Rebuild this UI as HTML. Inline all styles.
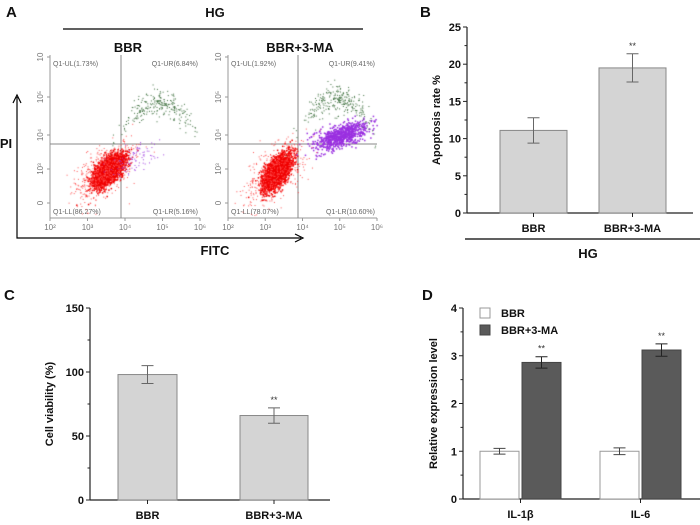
<!DOCTYPE html>
<html><head><meta charset="utf-8"><style>
body{margin:0;background:#fff;width:700px;height:525px;overflow:hidden;font-family:"Liberation Sans",Arial,sans-serif}
svg text{font-family:"Liberation Sans",Arial,sans-serif}
#fc{position:absolute;left:0;top:0}
</style></head><body>
<svg id="s" width="700" height="525" style="position:absolute;left:0;top:0"></svg>
<canvas id="fc" width="700" height="260"></canvas>
<script>
// Panel B data
const bCats=["BBR","BBR+3-MA"];
const bVals=[11.1,19.5];
const bErr=[1.7,1.9];
const bTicks=[0,5,10,15,20,25];
// Panel C data
const cCats=["BBR","BBR+3-MA"];
const cVals=[98,66];
const cErr=[7,6];
const cTicks=[0,50,100,150];
// Panel D data
const dCats=["IL-1β","IL-6"];
const dBBR=[1.0,1.0];
const dBBRErr=[0.06,0.07];
const dMA=[2.86,3.12];
const dMAErr=[0.12,0.13];
const dTicks=[0,1,2,3,4];
// Panel A quadrant data
const aQuads1=["Q1-UL(1.73%)","Q1-UR(6.84%)","Q1-LL(86.27%)","Q1-LR(5.16%)"];
const aQuads2=["Q1-UL(1.92%)","Q1-UR(9.41%)","Q1-LL(78.07%)","Q1-LR(10.60%)"];
// clusters: [logX, logY, spreadX, spreadY, count, color]
const aClusters1=[[3.55,2.75,0.2,0.22,2600,"#f00000"],[4.2,3.0,0.35,0.25,100,"#a040e0"],[4.9,4.7,0.5,0.3,260,"#3c6e3c"],[3.4,2.7,0.4,0.45,500,"#ff5050"]];
const aClusters2=[[3.3,2.7,0.18,0.25,2400,"#f00000"],[5.0,3.75,0.35,0.2,800,"#9a30e0"],[4.9,4.8,0.5,0.35,280,"#3c6e3c"],[3.25,2.65,0.4,0.5,500,"#ff5050"]];

const S=document.getElementById('s'),NS='http://www.w3.org/2000/svg';
function el(t,a,txt){const e=document.createElementNS(NS,t);for(const k in a)e.setAttribute(k,a[k]);if(txt!==undefined)e.textContent=txt;S.appendChild(e);return e;}
function T(x,y,s,txt,o){o=o||{};const e=el('text',Object.assign({x:x,y:y,'font-size':s,'font-weight':'bold','text-anchor':'middle',fill:'#111'},o),txt);return e;}

let e;
e=T(6,17,15,"A",{'text-anchor':'start'});
e=T(420,17,15,"B",{'text-anchor':'start'});
e=T(4,300,15,"C",{'text-anchor':'start'});
e=T(422,300,15,"D",{'text-anchor':'start'});

// ---------- Panel A ----------
e=T(215,17,13,"HG");
e=el('line',{x1:63,y1:29,x2:363,y2:29,stroke:'#000','stroke-width':1.2});
e=T(128,52,13,"BBR");
e=T(300,52,13,"BBR+3-MA");
e=el('path',{d:'M17,97 L17,238 L301,238',fill:'none',stroke:'#000','stroke-width':1.2});
el('path',{d:'M13,103 L17,95 L21,103',fill:'none',stroke:'#000','stroke-width':1.2});
el('path',{d:'M295,234 L303,238 L295,242',fill:'none',stroke:'#000','stroke-width':1.2});
e=T(6,148,13,"PI");
e=T(215,255,13,"FITC");

const fx=(x0,x1,v)=>x0+(v-2)/4*(x1-x0);
const fy=v=>203-(v-1.8)/(6-1.8)*(203-57);
const ctx=document.getElementById('fc').getContext('2d');
let seed=7;function rnd(){seed=(seed*16807)%2147483647;return seed/2147483647;}
function gauss(){return Math.sqrt(-2*Math.log(rnd()+1e-9))*Math.cos(2*Math.PI*rnd());}
function flowPlot(x0,x1,qx,quads,clusters,name){
  const g=el('g',{});
  const ax='#999';
  el('line',{x1:x0,y1:55,x2:x0,y2:218,stroke:ax});
  el('line',{x1:x0,y1:218,x2:x1,y2:218,stroke:ax});
  const xl=["10²","10³","10⁴","10⁵","10⁶"];
  xl.forEach((l,i)=>{const x=x0+i*(x1-x0)/4;el('line',{x1:x,y1:218,x2:x,y2:221,stroke:ax});el('text',{x:x,y:230,'font-size':8,fill:'#777','text-anchor':'middle'},l);});
  const yl=[[203,"0"],[169,"10³"],[135,"10⁴"],[97,"10⁵"],[57,"10"]];
  yl.forEach(([y,l])=>{el('line',{x1:x0-3,y1:y,x2:x0,y2:y,stroke:ax});el('text',{x:x0-7,y:y,'font-size':8,fill:'#777','text-anchor':'middle',transform:`rotate(-90 ${x0-7} ${y})`},l);});
  clusters.forEach(c=>{ctx.fillStyle=c[5];const big=c[5]==="#f00000"||c[5]==="#9a30e0";
    for(let i=0;i<c[4];i++){let a=gauss(),b=gauss();let lx=c[0]+a*c[2],ly=c[1]+(0.6*a+0.8*b)*c[3];
      if(c[5]==="#3c6e3c"){ly=c[1]-0.3*Math.pow((lx-c[0])/0.6,2)+b*c[3]*0.6;}
      const px=fx(x0,x1,lx),py=fy(ly);if(px<x0+2||px>x1||py<58||py>215)continue;ctx.fillRect(px,py,big?1.5:1,big?1.5:1);}});
  el('line',{x1:qx,y1:55,x2:qx,y2:218,stroke:'#888'});
  el('line',{x1:x0,y1:144,x2:x1,y2:144,stroke:'#888'});
  el('text',{x:x0+3,y:66,'font-size':7,fill:'#666'},quads[0]);
  el('text',{x:x1-2,y:66,'font-size':7,fill:'#666','text-anchor':'end'},quads[1]);
  el('text',{x:x0+3,y:214,'font-size':7,fill:'#666'},quads[2]);
  el('text',{x:x1-2,y:214,'font-size':7,fill:'#666','text-anchor':'end'},quads[3]);
}
flowPlot(50,200,121,aQuads1,aClusters1,'flow-plot-bbr');
flowPlot(228,377,298,aQuads2,aClusters2,'flow-plot-bbr-3ma');

function axisY(x,y0,y1,ticks,max,lab,ly,name){
  const g=el('g',{});
  el('line',{x1:x,y1:y0,x2:x,y2:y1,stroke:'#222','stroke-width':1.2});
  const step=ticks[1]-ticks[0];
  for(let v=0;v<=max+1e-9;v+=step/2){const y=y0-v/max*(y0-y1);el('line',{x1:x-(Math.abs(v/step-Math.round(v/step))<1e-6?4:2.5),y1:y,x2:x,y2:y,stroke:'#222'});}
  ticks.forEach(v=>{const y=y0-v/max*(y0-y1);el('text',{x:x-6,y:y+4,'font-size':11,'font-weight':'bold','text-anchor':'end',fill:'#111'},v);});
  el('text',{x:ly,y:(y0+y1)/2,'font-size':11,'font-weight':'bold','text-anchor':'middle',fill:'#111',transform:`rotate(-90 ${ly} ${(y0+y1)/2})`},lab);
}
function bar(x,w,v,err,y0,sc,fill,stroke,ecol,name,star){
  const y=y0-v*sc;
  e=el('rect',{x:x,y:y,width:w,height:v*sc,fill:fill,stroke:stroke,'stroke-width':1});
  
  const cx=x+w/2,t=y-err*sc,b=y+err*sc;
  el('path',{d:`M${cx},${t}L${cx},${b}M${cx-6},${t}L${cx+6},${t}M${cx-6},${b}L${cx+6},${b}`,stroke:ecol,'stroke-width':1,fill:'none'});
  if(star)el('text',{x:cx,y:t-5,'font-size':9,'text-anchor':'middle',fill:'#333'},'**');
}

// ---------- Panel B ----------
{const y0=213,y1=27,max=25,sc=(y0-y1)/max;
axisY(467,y0,y1,bTicks,max,"Apoptosis rate %",440,'panel-b-y-axis');
e=el('line',{x1:467,y1:y0,x2:693,y2:y0,stroke:'#222','stroke-width':1.2});
const xs=[500,599];
bCats.forEach((c,i)=>{bar(xs[i],67,bVals[i],bErr[i],y0,sc,'#d4d4d4','#888','#666','panel-b-bar-'+i,i==1);
 el('line',{x1:xs[i]+33.5,y1:y0,x2:xs[i]+33.5,y2:y0+4,stroke:'#222'});
 T(xs[i]+33.5,232,11,c);});
el('line',{x1:465,y1:239,x2:700,y2:239,stroke:'#000','stroke-width':1.2});
e=T(588,258,13,"HG");}

// ---------- Panel C ----------
{const y0=500,y1=308,max=150,sc=(y0-y1)/max;
axisY(90,y0,y1,cTicks,max,"Cell viability (%)",53,'panel-c-y-axis');
e=el('line',{x1:90,y1:y0,x2:330,y2:y0,stroke:'#222','stroke-width':1.2});
const xs=[118,240],ws=[59,68];
cCats.forEach((c,i)=>{bar(xs[i],ws[i],cVals[i],cErr[i],y0,sc,'#d4d4d4','#888','#666','panel-c-bar-'+i,i==1);
 el('line',{x1:xs[i]+ws[i]/2,y1:y0,x2:xs[i]+ws[i]/2,y2:y0+4,stroke:'#222'});
 T(xs[i]+ws[i]/2,519,11,c);});}

// ---------- Panel D ----------
{const y0=499,y1=308,max=4,sc=(y0-y1)/max;
axisY(463,y0,y1,dTicks,max,"Relative expression level",437,'panel-d-y-axis');
e=el('line',{x1:463,y1:y0,x2:700,y2:y0,stroke:'#222','stroke-width':1.2});
const gx=[480,600];
dCats.forEach((c,i)=>{bar(gx[i],39,dBBR[i],dBBRErr[i],y0,sc,'#fff','#999','#444','panel-d-bbr-bar-'+i,false);
 bar(gx[i]+42,39,dMA[i],dMAErr[i],y0,sc,'#5a5a5a','#444','#222','panel-d-3ma-bar-'+i,true);
 el('line',{x1:gx[i]+40.5,y1:y0,x2:gx[i]+40.5,y2:y0+4,stroke:'#222'});
 T(gx[i]+40.5,518,11,c);});
e=el('rect',{x:480,y:308,width:10,height:10,fill:'#fff',stroke:'#999'});
e=el('rect',{x:480,y:325,width:10,height:10,fill:'#5a5a5a',stroke:'#444'});
e=T(501,317,11,"BBR",{'text-anchor':'start'});
e=T(501,334,11,"BBR+3-MA",{'text-anchor':'start'});}
</script>
</body></html>
